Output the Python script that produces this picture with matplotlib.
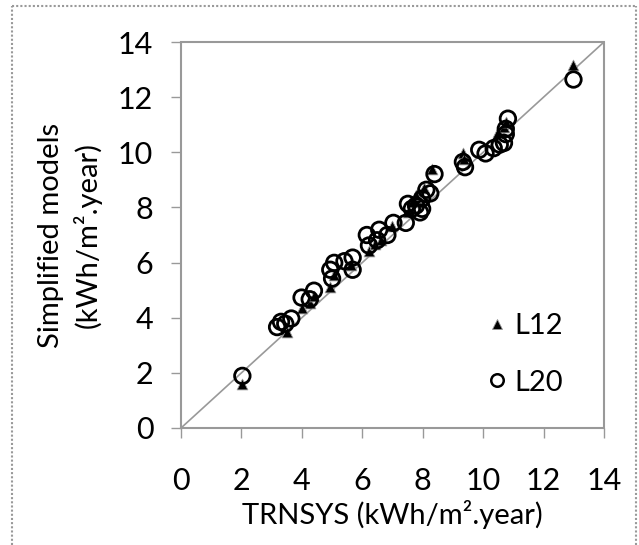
import matplotlib
matplotlib.use("Agg")
import matplotlib.pyplot as plt
from matplotlib.lines import Line2D

plt.rcParams['font.family'] = ['Lato', 'DejaVu Sans']

# L12 (triangles) : TRNSYS vs simplified model
l12_trnsys = [12.99, 2.03, 3.45, 3.52, 3.99, 4.26, 4.40, 4.94, 5.07, 5.61,
              6.22, 6.42, 6.63, 6.97, 7.51, 7.64, 7.78, 8.05, 8.32, 9.33,
              9.37, 10.48, 10.69, 10.75]
l12_model = [13.18, 1.58, 3.59, 3.47, 4.35, 4.54, 4.79, 5.11, 5.55, 5.93,
             6.43, 6.68, 6.81, 7.31, 7.82, 8.20, 8.45, 8.70, 9.40, 9.96,
             9.77, 10.72, 10.91, 11.10]

# L20 (circles)
l20_trnsys = [12.99, 2.03, 3.18, 3.31, 3.45, 3.65, 3.99, 4.26, 4.40, 4.94,
              5.07, 5.00, 5.41, 5.68, 5.68, 6.15, 6.22, 6.49, 6.56, 6.83,
              7.03, 7.44, 7.51, 7.64, 7.91, 7.98, 8.12, 8.25, 8.39, 7.98,
              7.78, 9.33, 9.40, 9.87, 10.08, 10.35, 10.55, 10.69, 10.75, 10.82,
              10.75]
l20_model = [12.64, 1.89, 3.66, 3.85, 3.78, 3.97, 4.73, 4.67, 4.98, 5.74,
             5.99, 5.42, 6.05, 6.18, 5.74, 7.00, 6.62, 6.81, 7.19, 7.00,
             7.44, 7.44, 8.13, 7.95, 7.82, 8.32, 8.64, 8.51, 9.21, 7.95,
             8.07, 9.65, 9.46, 10.09, 9.96, 10.15, 10.28, 10.34, 10.85, 11.22,
             10.66]

ticks = [0, 2, 4, 6, 8, 10, 12, 14]

fig = plt.figure(figsize=(6.39, 5.45), dpi=100)
ax = fig.add_axes([0.2833, 0.2147, 0.6619, 0.7082])

ax.plot([0, 14], [0, 14], color='#999999', lw=1.2, zorder=1)
ax.scatter(l12_trnsys, l12_model, marker='^', s=60, facecolor='black',
           edgecolor='#999999', linewidths=0.6, zorder=2)
ax.scatter(l20_trnsys, l20_model, marker='o', s=125, facecolor='none',
           edgecolor='black', linewidths=2.0, zorder=3)

ax.set_xlim(0, 14)
ax.set_ylim(0, 14)
ax.set_xticks(ticks)
ax.set_yticks(ticks)
ax.tick_params(axis='both', direction='out', length=7, width=1,
               color='#999999', labelsize=22)
ax.tick_params(axis='x', pad=21)
ax.tick_params(axis='y', pad=13)
for s in ax.spines.values():
    s.set_color('#999999')
    s.set_linestyle((0, (1, 1)))
    s.set_linewidth(1.5)

ax.set_xlabel('TRNSYS (kWh/m².year)', fontsize=21, labelpad=4)
ax.set_ylabel('Simplified models\n(kWh/m².year)', fontsize=21, labelpad=12,
              linespacing=1.35)

handles = [Line2D([], [], ls='none', marker='^', ms=7.5, mfc='black',
                  mec='#999999', mew=0.6),
           Line2D([], [], ls='none', marker='o', ms=9, mfc='none',
                  mec='black', mew=1.8)]
ax.legend(handles, ['L12', 'L20'], loc='upper left', frameon=False,
          fontsize=21, handlelength=0.6, handletextpad=0.3,
          labelspacing=1.05, borderpad=0, borderaxespad=0,
          bbox_to_anchor=(0.726, 0.298))

# dotted border around the figure
bc = '#999999'
fig.add_artist(Line2D([12/639, 12/639], [0, 1 - 6/545], color=bc, lw=1.5,
                      ls=(0, (1, 1)), transform=fig.transFigure))
fig.add_artist(Line2D([12/639, 636/639], [1 - 6/545, 1 - 6/545], color=bc,
                      lw=1.5, ls=(0, (1, 1)), transform=fig.transFigure))
fig.add_artist(Line2D([636/639, 636/639], [0, 1 - 6/545], color=bc, lw=1.5,
                      ls=(0, (1, 1)), transform=fig.transFigure))

fig.savefig('out.png', dpi=100)
